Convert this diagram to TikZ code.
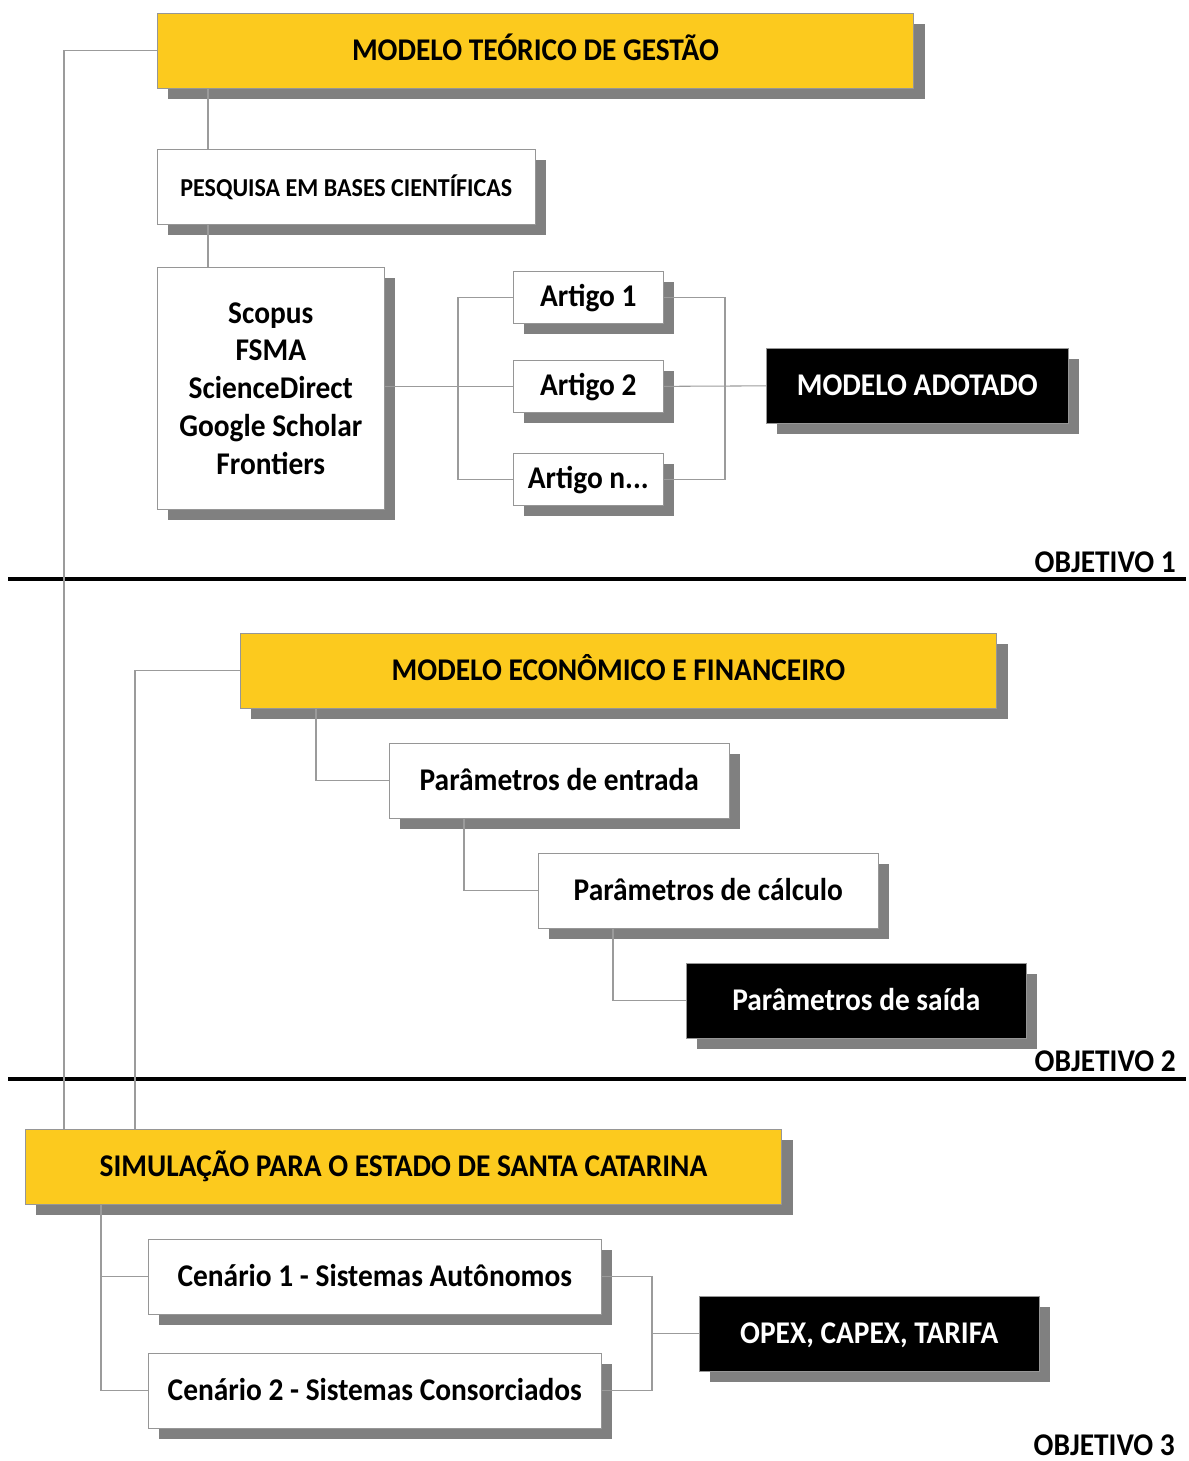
\documentclass[tikz,border=0pt]{standalone}
\usepackage{fontspec}
\setmainfont{Carlito}[FakeStretch=0.93]
\usetikzlibrary{shadows}
\definecolor{ouro}{RGB}{252,202,30}
\definecolor{fio}{RGB}{155,155,155}
\definecolor{borda}{RGB}{150,150,150}
\definecolor{sombra}{RGB}{128,128,128}
\begin{document}
\begin{tikzpicture}[x=0.02cm,y=-0.02cm,
  caixa/.style={draw=borda,fill=white,anchor=north west,inner sep=0pt,align=center,
    font=\bfseries\fontsize{18}{21.5}\selectfont,
    drop shadow={shadow xshift=0.22cm,shadow yshift=-0.22cm,fill=sombra,opacity=1}},
  uma/.style={caixa,text height=11.5pt,text depth=1pt},
  amarela/.style={uma,fill=ouro,minimum width=15.13cm,minimum height=1.5cm},
  preta/.style={uma,fill=black,text=white,minimum height=1.5cm},
  link/.style={draw=fio,line width=0.6pt},
  objetivo/.style={anchor=base east,font=\bfseries\fontsize{18}{21.5}\selectfont}]
\useasboundingbox (0,0) rectangle (1188,1461);
% objetivo 1
\node[amarela] (teor) at (157,13) {MODELO TEÓRICO DE GESTÃO};
\node[uma,minimum width=7.56cm,minimum height=1.5cm,font=\bfseries\fontsize{14.7}{18}\selectfont] (pesq) at (157,149) {PESQUISA EM BASES CIENTÍFICAS};
\node[caixa,minimum width=4.54cm,minimum height=4.84cm] (bases) at (157,267) {Scopus\\FSMA\\ScienceDirect\\Google Scholar\\Frontiers};
\node[uma,minimum width=3cm,minimum height=1.04cm] (art1) at (513,271) {Artigo 1};
\node[uma,minimum width=3cm,minimum height=1.04cm] (art2) at (513,360) {Artigo 2};
\node[uma,minimum width=3cm,minimum height=1.04cm] (artn) at (513,453) {Artigo n...};
\node[preta,minimum width=6.04cm] (adot) at (766,348) {MODELO ADOTADO};
\node[objetivo] (obj1) at (1182,572) {OBJETIVO 1};
\draw[line width=2.4pt] (8,579) -- (1186,579);
% objetivo 2
\node[amarela] (econ) at (240,633) {MODELO ECONÔMICO E FINANCEIRO};
\node[uma,minimum width=6.8cm,minimum height=1.5cm] (entr) at (389,743) {Parâmetros de entrada};
\node[uma,minimum width=6.8cm,minimum height=1.5cm] (calc) at (538,853) {Parâmetros de cálculo};
\node[preta,minimum width=6.8cm] (said) at (686,963) {Parâmetros de saída};
\node[objetivo] (obj2) at (1182,1071) {OBJETIVO 2};
\draw[line width=2.4pt] (8,1079) -- (1186,1079);
% objetivo 3
\node[amarela] (simu) at (25,1129) {SIMULAÇÃO PARA O ESTADO DE SANTA CATARINA};
\node[uma,minimum width=9.06cm,minimum height=1.5cm] (cen1) at (148,1239) {Cenário 1 - Sistemas Autônomos};
\node[uma,minimum width=9.06cm,minimum height=1.5cm] (cen2) at (148,1353) {Cenário 2 - Sistemas Consorciados};
\node[preta,minimum width=6.8cm] (opex) at (699,1296) {OPEX, CAPEX, TARIFA};
\node[objetivo] (obj3) at (1181,1455) {OBJETIVO 3};
% ligacoes
\coordinate (l1) at (64,1129);
\coordinate (l2) at (135,1129);
\coordinate (c1) at (208,0);
\coordinate (c2) at (458,0);
\coordinate (c3) at (725,0);
\coordinate (c4) at (316,0);
\coordinate (c5) at (464,0);
\coordinate (c6) at (613,0);
\coordinate (c7) at (101,0);
\coordinate (c8) at (652,0);
\draw[link] (teor.west) -| (l1);
\draw[link] (econ.west) -| (l2);
\draw[link] (teor.south -| c1) -- (pesq.north -| c1);
\draw[link] (pesq.south -| c1) -- (bases.north -| c1);
\draw[link] (bases.east |- art2.west) -- (art2.west);
\draw[link] (art1.west) -| (c2 |- artn.west) -- (artn.west);
\draw[link] (art1.east) -| (c3 |- artn.east) -- (artn.east);
\draw[link] (art2.east) -- (adot.west);
\draw[link] (econ.south -| c4) |- (entr.west);
\draw[link] (entr.south -| c5) |- (calc.west);
\draw[link] (calc.south -| c6) |- (said.west);
\draw[link] (simu.south -| c7) |- (cen2.west);
\draw[link] (cen1.west) -- (cen1.west -| c7);
\draw[link] (cen1.east) -| (c8 |- cen2.east) -- (cen2.east);
\draw[link] (opex.west) -- (opex.west -| c8);
\end{tikzpicture}
\end{document}
